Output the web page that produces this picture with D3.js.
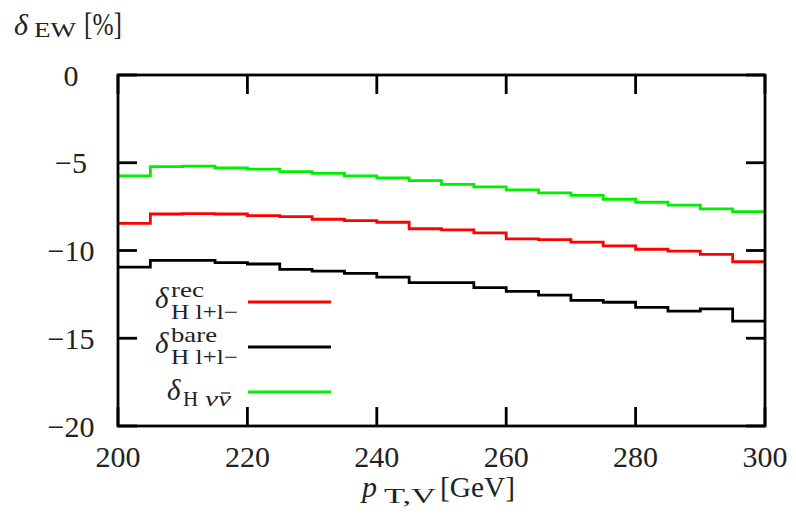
<!DOCTYPE html>
<html>
<head>
<meta charset="utf-8">
<script src="https://cdn.jsdelivr.net/npm/d3@7"></script>
<style>
  body { margin: 0; background: #fff; }
</style>
</head>
<body>
<div id="graphe"></div>
<script>
// bins de 5 GeV entre 200 et 300
var binEdges = [200, 205, 210, 215, 220, 225, 230, 235, 240, 245, 250,
                255, 260, 265, 270, 275, 280, 285, 290, 295, 300];

var deltaRec = [-8.45, -7.92, -7.90, -7.92, -8.01, -8.07, -8.22, -8.30, -8.39, -8.76,
                -8.83, -9.00, -9.34, -9.38, -9.52, -9.74, -9.93, -10.03, -10.22, -10.64];
var deltaBare = [-10.95, -10.56, -10.56, -10.69, -10.77, -11.07, -11.17, -11.30, -11.52, -11.83,
                 -11.83, -12.12, -12.33, -12.54, -12.84, -12.95, -13.24, -13.46, -13.33, -14.02];
var deltaNu = [-5.75, -5.22, -5.19, -5.30, -5.36, -5.51, -5.60, -5.75, -5.87, -6.02,
               -6.23, -6.38, -6.55, -6.72, -6.86, -7.08, -7.25, -7.41, -7.63, -7.79];

var xTicks = [200, 220, 240, 260, 280, 300];
var yTicks = [0, -5, -10, -15, -20];

var W = 796, H = 525;
var pLeft = 118, pRight = 765, pTop = 75, pBottom = 426;
var serif = "'Liberation Serif', 'Times New Roman', 'DejaVu Serif', serif";
var ink = "#222";

var svg = d3.select("#graphe").append("svg")
    .attr("width", W)
    .attr("height", H)
    .attr("font-family", serif)
    .style("font-family", serif);

var x = d3.scaleLinear().domain([200, 300]).range([pLeft, pRight]);
var y = d3.scaleLinear().domain([-20, 0]).range([pBottom, pTop]);

function steps(vals) {
  var pts = vals.map(function(v, i) { return [binEdges[i], v]; });
  pts.push([binEdges[binEdges.length - 1], vals[vals.length - 1]]);
  return pts;
}

var line = d3.line()
    .x(function(d) { return x(d[0]); })
    .y(function(d) { return y(d[1]); })
    .curve(d3.curveStepAfter);

var series = [
  {vals: deltaNu, color: "#00ee00"},
  {vals: deltaRec, color: "#ff0000"},
  {vals: deltaBare, color: "#000000"}
];

series.forEach(function(s) {
  svg.append("path")
    .attr("d", line(steps(s.vals)))
    .attr("fill", "none")
    .attr("stroke", s.color)
    .attr("stroke-width", 2.8);
});

// ticks vers l'interieur, sur les 4 cotes
var tickLen = 19;
var ticks = svg.append("g").attr("stroke", "#000").attr("stroke-width", 2.8);
xTicks.forEach(function(t) {
  ticks.append("line").attr("x1", x(t)).attr("x2", x(t)).attr("y1", pBottom).attr("y2", pBottom - tickLen);
  ticks.append("line").attr("x1", x(t)).attr("x2", x(t)).attr("y1", pTop).attr("y2", pTop + tickLen);
});
yTicks.forEach(function(t) {
  ticks.append("line").attr("x1", pLeft).attr("x2", pLeft + tickLen).attr("y1", y(t)).attr("y2", y(t));
  ticks.append("line").attr("x1", pRight).attr("x2", pRight - tickLen).attr("y1", y(t)).attr("y2", y(t));
});

svg.append("rect")
  .attr("x", pLeft).attr("y", pTop)
  .attr("width", pRight - pLeft).attr("height", pBottom - pTop)
  .attr("fill", "none")
  .attr("stroke", "#000")
  .attr("stroke-width", 2.8);

svg.append("g").selectAll("text")
  .data(xTicks)
  .enter().append("text")
  .attr("x", function(d) { return x(d); })
  .attr("y", 467)
  .attr("text-anchor", "middle")
  .attr("font-size", 30)
  .attr("fill", ink)
  .text(function(d) { return d; });

svg.append("g").selectAll("text")
  .data(yTicks)
  .enter().append("text")
  .attr("x", 71)
  .attr("y", function(d) { return y(d); })
  .attr("dy", "0.35em")
  .attr("text-anchor", "middle")
  .attr("font-size", 30)
  .attr("fill", ink)
  .text(function(d) { return d < 0 ? "\u2212" + (-d) : d; });

// petit utilitaire pour un morceau de texte
function piece(str, px, py, size, len, italic) {
  var t = svg.append("text")
    .attr("x", px).attr("y", py)
    .attr("font-size", size)
    .attr("fill", ink)
    .text(str);
  if (italic) t.attr("font-style", "italic");
  if (len) t.attr("textLength", len).attr("lengthAdjust", "spacingAndGlyphs");
  return t;
}

// titres des axes
piece("δ", 14, 35, 30, null, true);
piece("EW", 34, 37, 20, 42);
piece("[%]", 84, 35, 31, 38);

piece("p", 362, 497, 30, null, true);
piece("T,V", 384, 503, 21, 52);
piece("[GeV]", 440, 497, 30, 75);

// legende
var legend = [
  {sup: "rec", supLen: 33, sub: "H l+l\u2212", color: "#ff0000", ly: 302},
  {sup: "bare", supLen: 46, sub: "H l+l\u2212", color: "#000000", ly: 347},
  {sup: "", sub: "H", color: "#00ee00", ly: 392}
];

legend.forEach(function(l) {
  svg.append("line")
    .attr("x1", 248).attr("x2", 331)
    .attr("y1", l.ly).attr("y2", l.ly)
    .attr("stroke", l.color)
    .attr("stroke-width", 2.8);
  if (l.sup) {
    piece("δ", 155, l.ly + 6, 29, null, true);
    piece(l.sup, 171, l.ly - 5, 21, l.supLen);
    piece(l.sub, 171, l.ly + 17, 21, 67);
  } else {
    piece("δ", 167, l.ly + 8, 29, null, true);
    piece(l.sub, 183, l.ly + 14, 21);
    piece("\u03bd\u03bd", 205, l.ly + 14, 21, 26, true);
    // barre du nu-bar
    svg.append("line")
      .attr("x1", 221).attr("x2", 230)
      .attr("y1", l.ly + 1).attr("y2", l.ly + 1)
      .attr("stroke", ink)
      .attr("stroke-width", 1.3);
  }
});
</script>
</body>
</html>
